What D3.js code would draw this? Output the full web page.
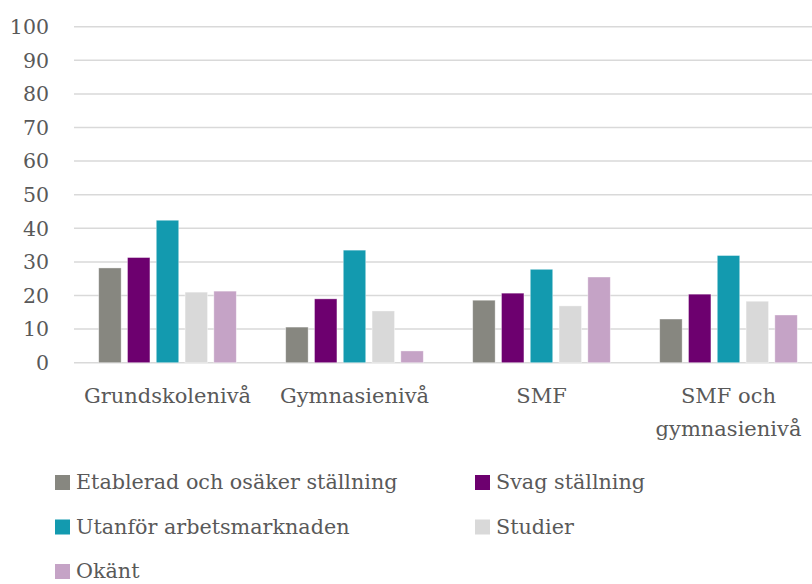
<!DOCTYPE html>
<html>
<head>
<meta charset="utf-8">
<script src="https://cdn.jsdelivr.net/npm/d3@7"></script>
<style>
  body { margin: 0; background: #fff; }
  svg text { font-family: "DejaVu Serif", "Liberation Serif", serif; fill: #595959; }
</style>
</head>
<body>
<div id="chart"></div>
<script>
const categories = ["Grundskolenivå", "Gymnasienivå", "SMF", "SMF och gymnasienivå"];
const series = ["Etablerad och osäker ställning", "Svag ställning", "Utanför arbetsmarknaden", "Studier", "Okänt"];
const etablerad = [28.2, 10.6, 18.6, 13.0];
const svag = [31.3, 19.0, 20.7, 20.4];
const utanfor = [42.4, 33.5, 27.8, 31.9];
const studier = [21.0, 15.4, 16.9, 18.3];
const okant = [21.3, 3.5, 25.5, 14.2];
const yTicks = [0, 10, 20, 30, 40, 50, 60, 70, 80, 90, 100];
const colors = ["#878780", "#6d006f", "#139aaf", "#d9d9d9", "#c5a3c6"];

const values = [etablerad, svag, utanfor, studier, okant];
const width = 812, height = 584;

const svg = d3.select("#chart").append("svg")
    .attr("width", width)
    .attr("height", height);

const x0 = d3.scaleBand().domain(categories).range([74, 822]);
const x1 = d3.scaleBand().domain(series)
    .range([24.7, x0.bandwidth() - 24.7])
    .paddingInner(0.22);
const y = d3.scaleLinear().domain([0, 100]).range([362.7, 26.7]);

// gridlines
svg.append("g")
    .selectAll("line")
    .data(yTicks)
    .enter().append("line")
    .attr("x1", 74)
    .attr("x2", width)
    .attr("y1", d => y(d))
    .attr("y2", d => y(d))
    .attr("stroke", "#d9d9d9")
    .attr("stroke-width", 1.5);

// y tick labels
svg.append("g")
    .selectAll("text")
    .data(yTicks)
    .enter().append("text")
    .attr("x", 49)
    .attr("y", d => y(d))
    .attr("dy", "0.36em")
    .attr("text-anchor", "end")
    .attr("font-size", 20.5)
    .text(d => d);

// bars
const groups = svg.append("g")
    .selectAll("g")
    .data(categories)
    .enter().append("g")
    .attr("transform", d => `translate(${x0(d)},0)`);

groups.selectAll("rect")
    .data((d, i) => series.map((s, j) => ({ s, v: values[j][i], c: colors[j] })))
    .enter().append("rect")
    .attr("x", d => x1(d.s))
    .attr("width", x1.bandwidth())
    .attr("y", d => y(d.v))
    .attr("height", d => y(0) - y(d.v))
    .attr("fill", d => d.c)
    .attr("stroke", "#fff")
    .attr("stroke-opacity", 0.5)
    .attr("stroke-width", 0.75);

// category labels
const catLines = { "SMF och gymnasienivå": ["SMF och", "gymnasienivå"] };
svg.append("g")
    .selectAll("text")
    .data(categories)
    .enter().append("text")
    .attr("text-anchor", "middle")
    .attr("font-size", 21)
    .attr("x", d => x0(d) + x0.bandwidth() / 2)
    .attr("y", 403)
    .each(function(d) {
        const lines = catLines[d] || [d];
        d3.select(this).selectAll("tspan")
            .data(lines)
            .enter().append("tspan")
            .attr("x", x0(d) + x0.bandwidth() / 2)
            .attr("dy", (l, i) => i === 0 ? 0 : 33)
            .text(l => l);
    });

// legend
const legend = svg.append("g")
    .selectAll("g")
    .data(series)
    .enter().append("g")
    .attr("transform", (d, i) => `translate(${i % 2 === 0 ? 55 : 475},${489 + Math.floor(i / 2) * 44.5})`);

legend.append("rect")
    .attr("x", 0)
    .attr("y", -14)
    .attr("width", 15)
    .attr("height", 15)
    .attr("fill", (d, i) => colors[i]);

legend.append("text")
    .attr("x", 21)
    .attr("y", 0)
    .attr("font-size", 20.7)
    .text(d => d);
</script>
</body>
</html>
